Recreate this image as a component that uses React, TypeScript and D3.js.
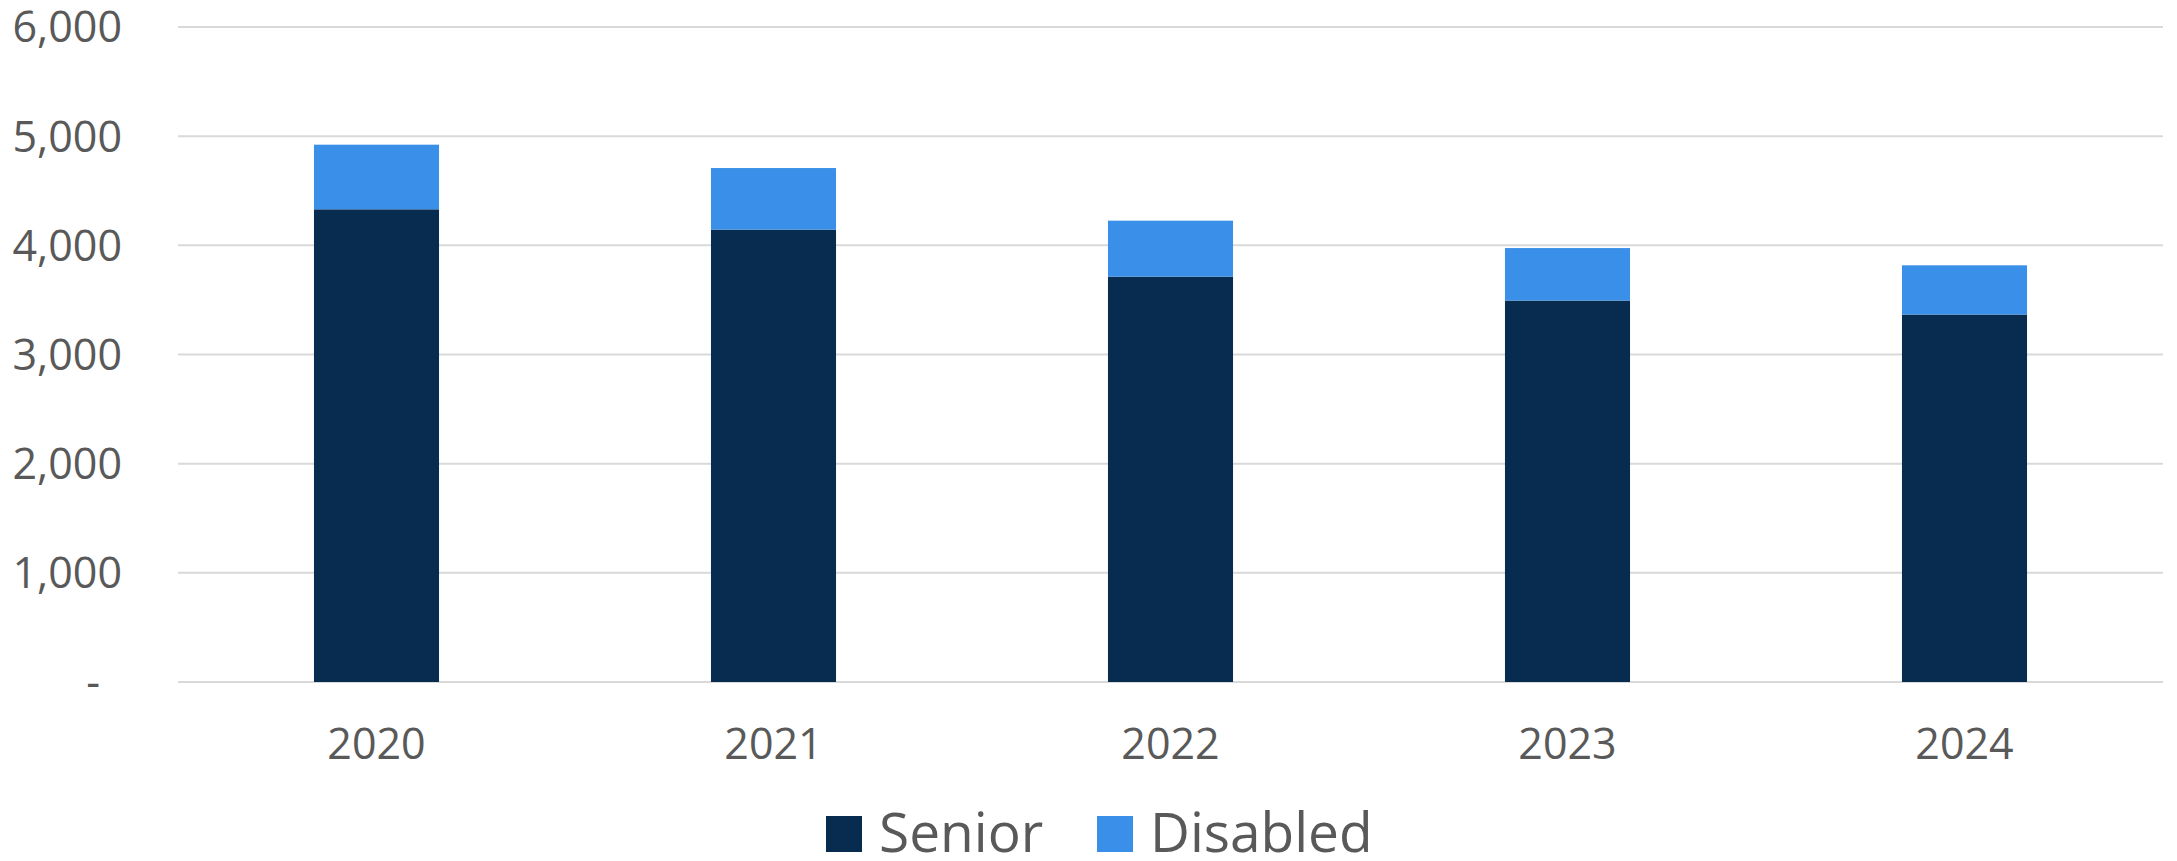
import { useMemo } from "react";
import * as d3 from "d3";

const WIDTH = 2177;
const HEIGHT = 861;
const MARGIN = { top: 27, right: 14, bottom: 179, left: 178 };

const YEARS = ["2020", "2021", "2022", "2023", "2024"];
const SENIOR = [4330, 4144, 3713, 3494, 3366];
const DISABLED = [592, 564, 513, 481, 451];
const Y_TICKS = [0, 1000, 2000, 3000, 4000, 5000, 6000];

const SERIES = [
    { key: "senior", label: "Senior", color: "#082b50" },
    { key: "disabled", label: "Disabled", color: "#3a8fe8" },
];

const FONT = '"Open Sans", "Noto Sans", sans-serif';
const TEXT_COLOR = "#595959";

export default function App() {
    const boundsWidth = WIDTH - MARGIN.left - MARGIN.right;
    const boundsHeight = HEIGHT - MARGIN.top - MARGIN.bottom;

    const rows = YEARS.map((year, i) => ({ year, senior: SENIOR[i], disabled: DISABLED[i] }));

    const stacked = useMemo(
        () => d3.stack<any>().keys(SERIES.map((s) => s.key))(rows),
        []
    );

    const xScale = d3.scaleBand().domain(YEARS).range([0, boundsWidth]).paddingInner(0.685).paddingOuter(0.3425);
    const yScale = d3.scaleLinear().domain([0, 6000]).range([boundsHeight, 0]);
    const fmt = d3.format(",");

    // legend positions (square, label)
    const legendX = [826, 1097];

    return (
        <div style={{ position: "absolute", left: 0, top: 0 }}>
            <svg width={WIDTH} height={HEIGHT} style={{ display: "block", background: "#fff" }}>
                <g transform={`translate(${MARGIN.left},${MARGIN.top})`}>
                    {/* gridlines */}
                    {Y_TICKS.map((t) => (
                        <line
                            key={t}
                            x1={0}
                            x2={boundsWidth}
                            y1={yScale(t)}
                            y2={yScale(t)}
                            stroke="#d9d9d9"
                            strokeWidth={2}
                        />
                    ))}
                    {/* y labels */}
                    {Y_TICKS.map((t) => (
                        <text
                            key={"l" + t}
                            x={t === 0 ? -78 : -56}
                            y={yScale(t)}
                            dy="0.36em"
                            textAnchor="end"
                            fontFamily={FONT}
                            fontSize={43}
                            fill={TEXT_COLOR}
                        >
                            {t === 0 ? "-" : fmt(t)}
                        </text>
                    ))}
                    {/* bars */}
                    {stacked.map((layer, si) => (
                        <g key={layer.key} fill={SERIES[si].color}>
                            {layer.map((d, i) => (
                                <rect
                                    key={YEARS[i]}
                                    x={xScale(YEARS[i])}
                                    y={yScale(d[1])}
                                    width={xScale.bandwidth()}
                                    height={yScale(d[0]) - yScale(d[1])}
                                />
                            ))}
                        </g>
                    ))}
                    {/* x labels */}
                    {YEARS.map((y) => (
                        <text
                            key={y}
                            x={(xScale(y) ?? 0) + xScale.bandwidth() / 2}
                            y={boundsHeight + 62}
                            dy="0.36em"
                            textAnchor="middle"
                            fontFamily={FONT}
                            fontSize={43}
                            fill={TEXT_COLOR}
                        >
                            {y}
                        </text>
                    ))}
                </g>
                {/* legend */}
                {SERIES.map((s, i) => (
                    <g key={s.key} transform={`translate(${legendX[i]},816)`}>
                        <rect x={0} y={0} width={36} height={36} fill={s.color} />
                        <text x={53} y={36} fontFamily={FONT} fontSize={55} fill={TEXT_COLOR}>
                            {s.label}
                        </text>
                    </g>
                ))}
            </svg>
        </div>
    );
}
